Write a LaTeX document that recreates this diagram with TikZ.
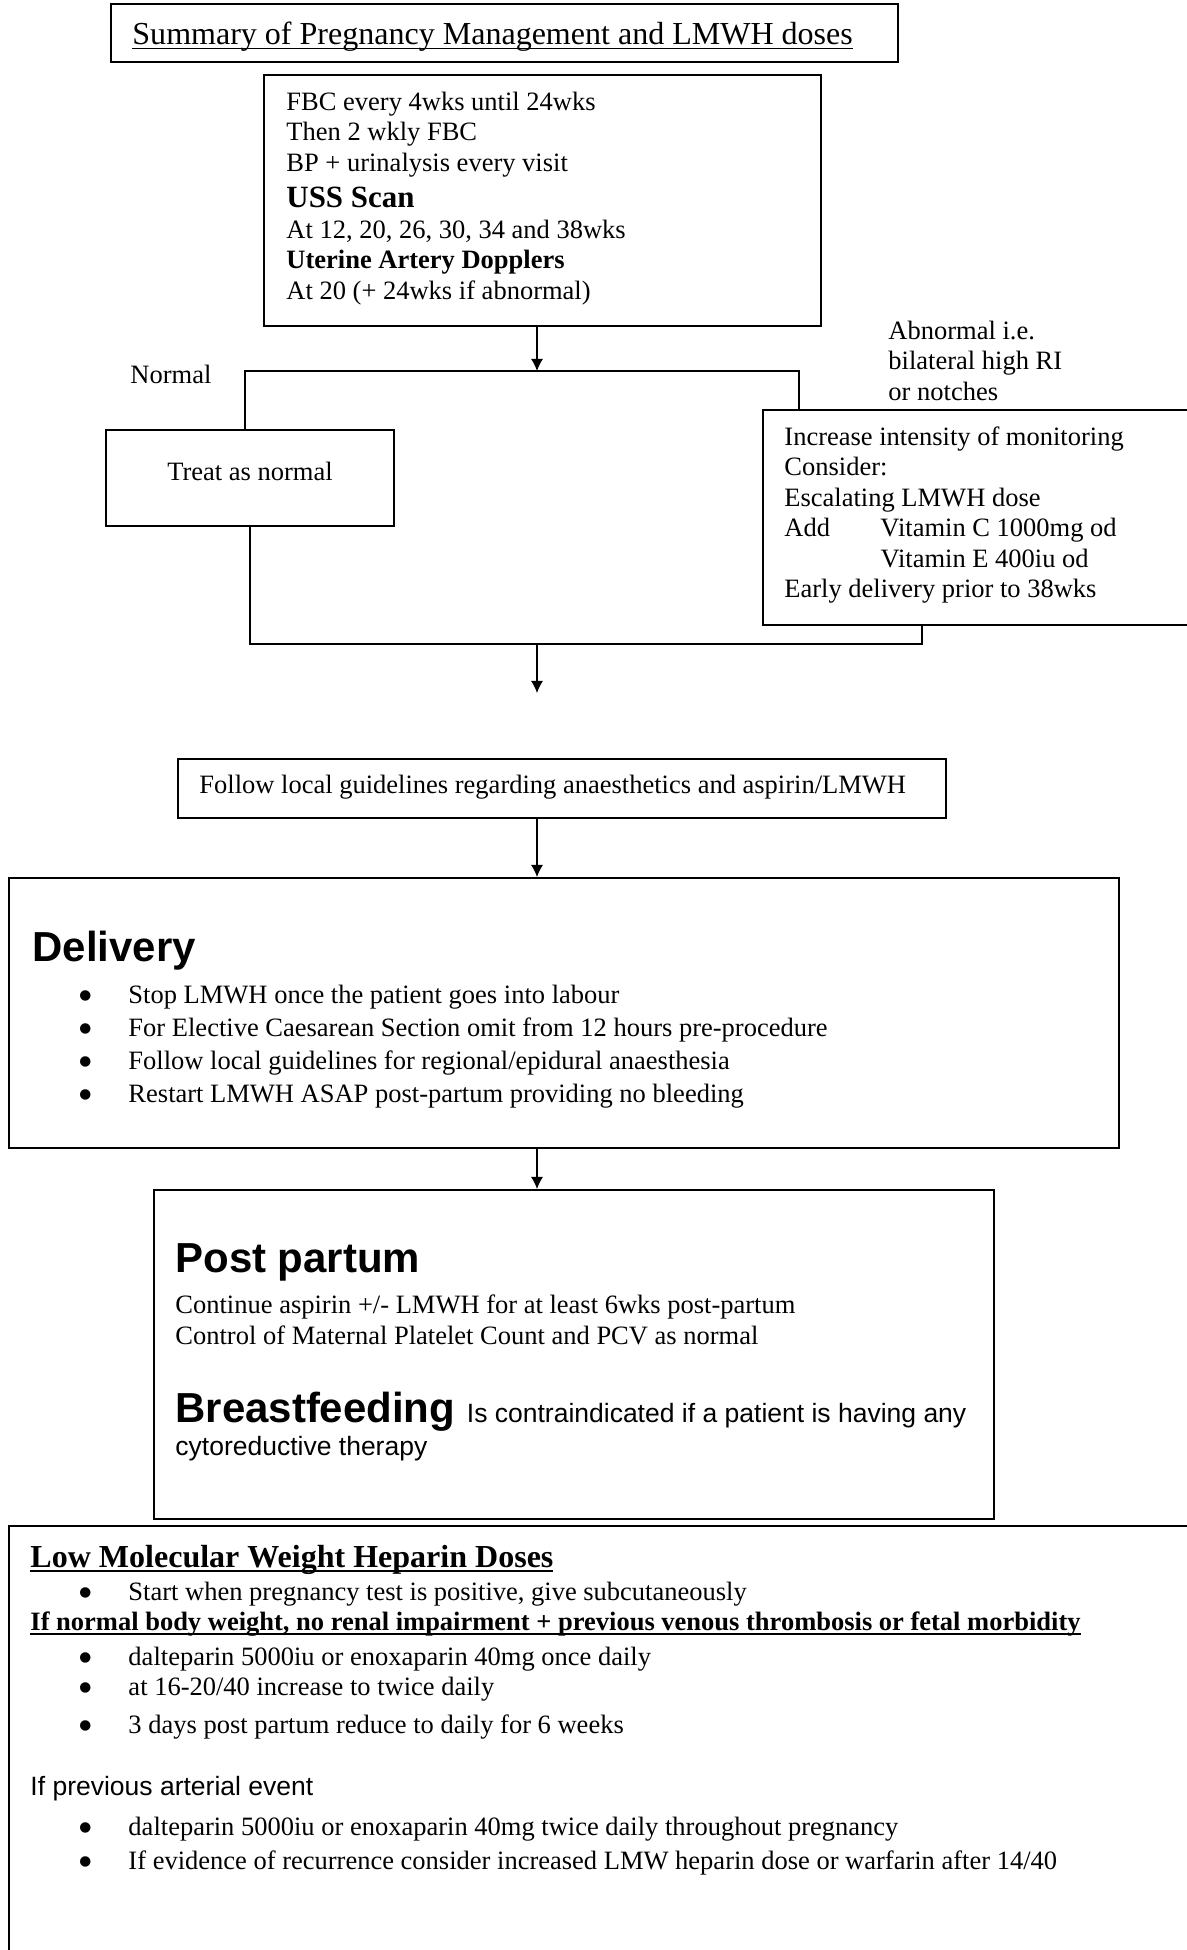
\documentclass[tikz,border=0pt]{standalone}
\usepackage{fontspec}
\setmainfont{Liberation Serif}
\setsansfont{Liberation Sans}
\newfontfamily\dotfont{DejaVu Sans}
\usetikzlibrary{arrows.meta,fit}

% bullet at a fixed indent, text behind it at a fixed indent
\newcommand{\bul}{\hspace*{24.9pt}\makebox[0pt]{\raisebox{1.8pt}{\dotfont\fontsize{6.2}{7}\selectfont ●}}\hspace*{19.5pt}}
\newcommand{\undl}[2][0.6pt]{\setbox0\hbox{#2}\rlap{\rule[-1.9pt]{\wd0}{#1}}\box0}

\begin{document}
\begin{tikzpicture}[x=0.4528pt,y=-0.4528pt]
  \tikzstyle{box}=[draw, line width=0.9pt, inner sep=0pt]
  \tikzstyle{txt}=[inner sep=0pt, align=left, font=\fontsize{12}{13.8}\selectfont]
  \tikzstyle{head}=[inner sep=0pt, font=\sffamily\bfseries\fontsize{19}{22}\selectfont]
  \tikzstyle{link}=[line width=0.55pt]
  \tikzstyle{arr}=[link, -{Latex[length=5.5pt,width=5.5pt]}]
  \useasboundingbox (0,0) rectangle (1187,1950);

  % boxes
  \node[box, fit={(111,4) (898,62)}] (title) {};
  \node[box, fit={(264,75) (821,326)}] (fbc) {};
  \node[box, fit={(106,430) (394,526)}] (treat) {};
  \node[box, fit={(763,410) (1200,625)}] (incr) {};
  \node[box, fit={(178,759) (946,818)}] (follow) {};
  \node[box, fit={(9,878) (1119,1148)}] (deliv) {};
  \node[box, fit={(154,1190) (994,1519)}] (post) {};
  \node[box, fit={(9,1526) (1200,1962)}] (lmwh) {};

  % texts
  \node[txt, font=\fontsize{14.5}{16}\selectfont, anchor=base west] (ttl) at (132,45)
    {\undl{Summary of Pregnancy Management and LMWH doses}};
  \node[txt, anchor=north west] (fbctxt) at (286,88.7)
    {\strut FBC every 4wks until 24wks\\ Then 2 wkly FBC\\ BP + urinalysis every visit\\[2.6pt]
     {\fontsize{14}{16}\selectfont\bfseries USS Scan}\\ At 12, 20, 26, 30, 34 and 38wks\\
     \textbf{Uterine Artery Dopplers}\\ At 20 (+ 24wks if abnormal)};
  \node[txt, anchor=base west] (nrm) at (130,383) {Normal};
  \node[txt, anchor=north west] (abntxt) at (888,317.7)
    {\strut Abnormal i.e.\\ bilateral high RI\\ or notches};
  \node[txt, anchor=base] (treattxt) at (250,480) {Treat as normal};
  \node[txt, anchor=north west] (incrtxt) at (784,423.7)
    {\strut Increase intensity of monitoring\\ Consider:\\ Escalating LMWH dose\\
     \makebox[43.5pt][l]{Add}Vitamin C 1000mg od\\ \hspace*{43.5pt}Vitamin E 400iu od\\
     Early delivery prior to 38wks};
  \node[txt, anchor=base west] (followtxt) at (199,793)
    {Follow local guidelines regarding anaesthetics and aspirin/LMWH};

  \node[head, anchor=base west] (delhead) at (32,961) {Delivery};
  \node[txt, font=\fontsize{12}{14.9}\selectfont, anchor=north west] (deltxt) at (30,980)
    {\strut\bul Stop LMWH once the patient goes into labour\\
     \bul For Elective Caesarean Section omit from 12 hours pre-procedure\\
     \bul Follow local guidelines for regional/epidural anaesthesia\\
     \bul Restart LMWH ASAP post-partum providing no bleeding};

  \node[head, anchor=base west] (pphead) at (175,1272) {Post partum};
  \node[txt, font=\fontsize{12}{14}\selectfont, anchor=north west] (pptxt) at (175,1291.4)
    {\strut Continue aspirin +/- LMWH for at least 6wks post-partum\\
     Control of Maternal Platelet Count and PCV as normal};
  \node[txt, font=\sffamily\fontsize{12}{15}\selectfont, anchor=north west] (bftxt) at (175,1386.7)
    {\rule{0pt}{16pt}{\bfseries\fontsize{19}{22}\selectfont Breastfeeding\ }Is contraindicated if a patient is having any\\
     cytoreductive therapy};

  \node[txt, font=\fontsize{12}{13.6}\selectfont, anchor=north west] (lmwhtxt) at (30,1544.9)
    {\rule{0pt}{10pt}{\fontsize{14.5}{16}\selectfont\bfseries\undl[0.9pt]{Low Molecular Weight Heparin Doses}}\\[1.4pt]
     \bul Start when pregnancy test is positive, give subcutaneously\\
     \textbf{\undl[0.8pt]{If normal body weight, no renal impairment + previous venous thrombosis or fetal morbidity}}\\[2.3pt]
     \bul dalteparin 5000iu or enoxaparin 40mg once daily\\
     \bul at 16-20/40 increase to twice daily\\[3.6pt]
     \bul 3 days post partum reduce to daily for 6 weeks\\[14.5pt]
     {\sffamily If previous arterial event}\\[4.5pt]
     \bul dalteparin 5000iu or enoxaparin 40mg twice daily throughout pregnancy\\[1.4pt]
     \bul If evidence of recurrence consider increased LMW heparin dose or warfarin after 14/40};

  % connectors
  \coordinate (split) at (537,371);
  \coordinate (nrmc) at (245,371);
  \coordinate (abnc) at (799,371);
  \coordinate (merge) at (537,644);
  \coordinate (mergeR) at (922,644);
  \coordinate (gap) at (537,693);

  \draw[arr] (fbc.south -| split) -- (split);
  \draw[link] (treat.north -| nrmc) -- (nrmc) -- (abnc) -- (incr.north -| abnc);
  \draw[link] (treat.south) |- (mergeR) -- (incr.south -| mergeR);
  \draw[arr] (merge) -- (gap);
  \draw[arr] (follow.south -| merge) -- (deliv.north -| merge);
  \draw[arr] (deliv.south -| merge) -- (post.north -| merge);
\end{tikzpicture}
\end{document}
